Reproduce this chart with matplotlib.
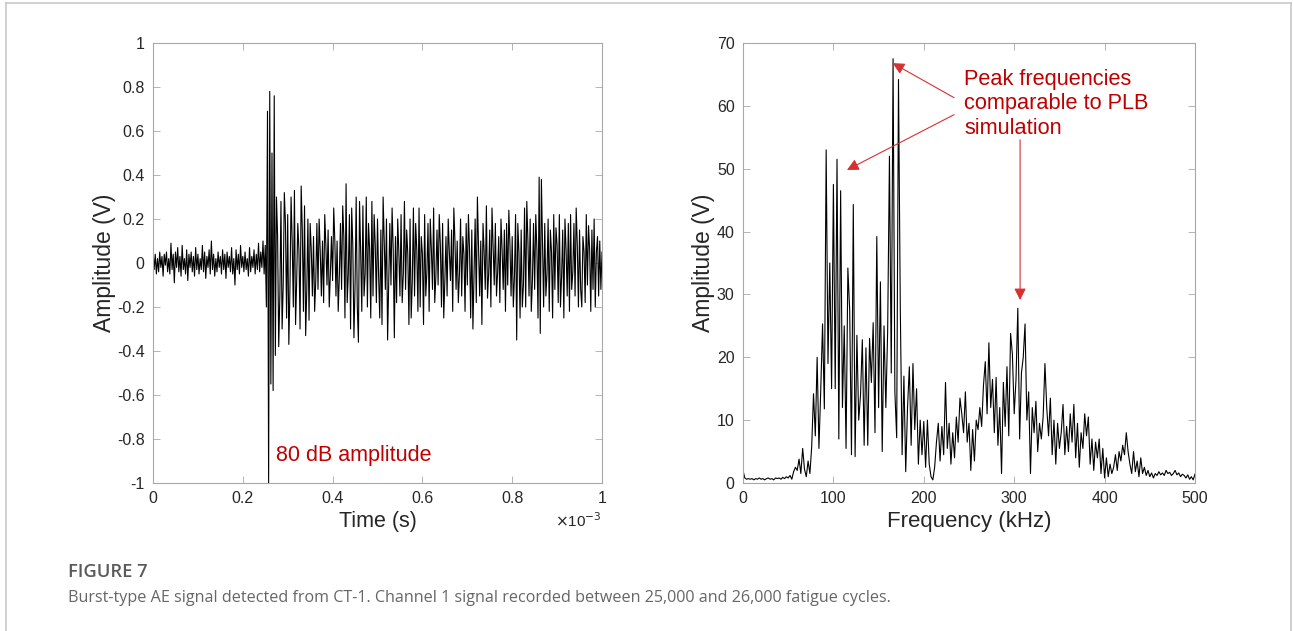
import numpy as np
import matplotlib
matplotlib.use("Agg")
import matplotlib.pyplot as plt
from matplotlib.lines import Line2D

plt.rcParams['font.family'] = ['Liberation Sans', 'DejaVu Sans']
plt.rcParams['axes.unicode_minus'] = False

# AE burst waveform, amplitude (V), sampled every 2.5 us from 0 to 1 ms
signal_v = [
    0.06, -0.03, 0.04, -0.05, 0.02, -0.04, 0.05, -0.02, 0.03, -0.06, 0.04, -0.01, 0.05, -0.04, 0.02, -0.05, 0.09, -0.03, 0.04, -0.09,
    0.05, -0.02, 0.07, -0.04, 0.03, -0.06, 0.08, -0.03, 0.02, -0.05, 0.06, -0.08, 0.04, -0.02, 0.05, -0.04, 0.03, -0.06, 0.07, -0.03,
    0.04, -0.05, 0.02, -0.03, 0.08, -0.04, 0.05, -0.07, 0.03, -0.02, 0.06, -0.05, 0.10, -0.03, 0.04, -0.06, 0.02, -0.04, 0.05, -0.02,
    0.03, -0.05, 0.06, -0.03, 0.04, -0.07, 0.05, -0.02, 0.03, -0.04, 0.07, -0.05, 0.02, -0.10, 0.06, -0.03, 0.04, -0.05, 0.08, -0.02,
    0.03, -0.04, 0.05, -0.03, 0.02, -0.06, 0.07, -0.04, 0.03, -0.02, 0.06, -0.05, 0.04, -0.03, 0.09, -0.04, 0.05, -0.02, 0.10, -0.05,
    0.08, -0.20, 0.69, -1.00, 0.78, -0.55, 0.50, -0.58, 0.76, -0.42, 0.30, 0.12, -0.38, -0.15, 0.28, -0.30, -0.10, 0.32, 0.18, -0.25,
    0.22, -0.37, -0.12, 0.30, 0.10, -0.20, 0.33, -0.28, -0.08, 0.18, 0.06, -0.30, 0.35, 0.15, -0.22, 0.26, -0.33, -0.12, 0.20, -0.26,
    0.18, 0.06, -0.15, 0.12, -0.22, -0.08, 0.18, -0.12, 0.20, 0.05, -0.15, 0.10, -0.18, 0.22, 0.08, -0.10, 0.15, -0.20, -0.05, 0.12,
    -0.08, 0.25, 0.10, -0.15, 0.10, -0.22, -0.06, 0.18, -0.12, 0.26, 0.12, -0.25, 0.36, -0.18, -0.05, 0.22, -0.30, 0.25, 0.08, -0.34,
    -0.10, 0.30, -0.20, -0.36, 0.28, 0.05, -0.22, 0.26, -0.15, -0.05, 0.30, -0.20, 0.18, 0.06, -0.25, 0.28, -0.15, 0.22, 0.08, -0.18,
    0.20, -0.06, -0.25, 0.15, -0.28, 0.30, 0.10, -0.12, 0.20, -0.35, -0.08, 0.18, -0.10, 0.25, 0.06, -0.34, 0.12, -0.18, 0.20, 0.05,
    -0.15, 0.22, -0.18, -0.05, 0.28, -0.12, 0.15, 0.04, -0.28, 0.20, -0.25, -0.08, 0.25, -0.15, 0.18, 0.06, -0.22, 0.25, -0.20, 0.12,
    0.04, -0.28, 0.22, -0.15, -0.04, 0.18, -0.22, 0.20, 0.06, -0.12, 0.25, -0.18, -0.06, 0.15, -0.10, 0.22, 0.08, -0.20, 0.18, -0.25,
    -0.08, 0.12, -0.15, 0.20, 0.05, -0.08, 0.15, -0.22, 0.25, 0.10, -0.12, 0.10, -0.18, -0.05, 0.20, -0.15, 0.12, 0.04, -0.22, 0.18,
    -0.10, 0.22, 0.06, -0.25, 0.15, -0.30, -0.04, 0.20, -0.18, 0.30, 0.08, -0.15, 0.10, -0.28, 0.18, 0.05, -0.12, 0.26, -0.16, -0.05,
    0.15, -0.20, 0.25, 0.08, -0.10, 0.18, -0.15, -0.04, 0.12, -0.18, 0.20, 0.06, -0.12, 0.15, -0.22, 0.18, -0.10, 0.24, 0.08, -0.15,
    0.12, -0.20, -0.06, 0.22, -0.35, 0.18, 0.05, -0.25, 0.15, -0.20, -0.10, 0.25, -0.20, 0.28, 0.10, -0.15, 0.20, -0.22, -0.08, 0.18,
    -0.12, 0.22, 0.06, -0.25, 0.39, -0.32, 0.38, 0.08, -0.20, 0.18, -0.15, -0.05, 0.20, -0.22, 0.15, 0.05, -0.25, 0.22, -0.12, 0.16,
    0.08, -0.18, 0.22, -0.20, -0.06, 0.15, -0.25, 0.20, 0.06, -0.15, 0.18, -0.22, 0.22, -0.12, -0.04, 0.18, -0.15, 0.25, 0.08, -0.20,
    0.15, -0.12, -0.20, 0.12, 0.05, -0.18, 0.22, -0.10, 0.17, 0.06, -0.22, 0.15, -0.12, 0.20, -0.20, 0.05, 0.12, -0.15, 0.10, -0.12, 0.05,
]
time_s = np.linspace(0, 1e-3, len(signal_v))

# FFT magnitude, every 2 kHz from 0 to 500 kHz
spectrum_v = [
    2.0, 0.8, 0.6, 0.7, 0.6, 0.7, 0.5, 0.7, 0.6, 0.8,
    0.6, 0.7, 0.5, 0.7, 0.8, 0.6, 0.7, 0.5, 0.8, 0.7,
    0.8, 0.6, 0.9, 0.7, 1.0, 0.8, 1.2, 0.6, 1.8, 2.5,
    2.0, 3.8, 1.5, 5.5, 2.2, 1.0, 3.5, 1.5, 5.8, 14.2,
    7.5, 20.0, 5.5, 14.8, 25.3, 11.8, 53.0, 19.0, 35.0, 15.0,
    47.5, 15.0, 51.5, 7.0, 46.5, 12.0, 25.0, 5.5, 34.2, 27.5,
    4.5, 44.3, 4.2, 23.5, 10.0, 14.0, 22.8, 6.0, 21.5, 6.0,
    23.0, 16.0, 25.5, 8.0, 39.2, 12.0, 32.0, 5.0, 25.0, 12.0,
    24.0, 52.0, 17.5, 67.5, 14.5, 7.2, 64.2, 27.8, 4.5, 17.0,
    1.8, 12.0, 18.5, 6.0, 19.0, 8.5, 15.0, 3.0, 10.0, 4.5,
    9.8, 2.5, 10.0, 3.0, 1.0, 0.5, 2.5, 6.5, 9.5, 3.5,
    9.0, 4.5, 16.0, 5.5, 9.5, 3.0, 8.0, 4.0, 10.5, 6.5,
    13.5, 11.0, 8.0, 14.5, 6.5, 9.5, 2.0, 8.5, 3.5, 10.0,
    8.5, 12.0, 9.0, 15.5, 19.3, 11.0, 22.3, 12.0, 16.5, 8.0,
    16.8, 6.0, 12.0, 1.5, 16.0, 9.0, 18.5, 7.5, 23.8, 20.5,
    11.0, 16.5, 27.8, 7.0, 17.5, 20.0, 25.3, 10.0, 14.5, 1.5,
    12.0, 8.0, 13.0, 5.0, 9.5, 7.0, 10.5, 19.0, 12.0, 7.5,
    13.5, 4.5, 10.0, 3.0, 9.5, 5.5, 8.0, 12.5, 4.5, 9.0,
    5.0, 11.0, 6.5, 12.5, 4.0, 9.5, 2.5, 8.0, 5.5, 11.0,
    7.5, 10.5, 3.0, 7.0, 2.0, 6.5, 4.0, 7.0, 1.5, 5.5,
    0.8, 4.0, 1.0, 3.0, 1.5, 2.5, 4.5, 2.0, 5.0, 3.5,
    6.0, 4.5, 8.0, 5.0, 3.0, 1.5, 5.0, 1.8, 3.5, 1.0,
    4.0, 1.5, 2.5, 1.2, 2.0, 1.0, 1.6, 0.8, 1.5, 1.2,
    1.8, 1.3, 1.6, 1.2, 2.0, 1.5, 1.7, 1.2, 1.5, 2.0,
    1.3, 1.6, 1.0, 1.4, 1.2, 0.8, 1.3, 0.6, 1.0, 0.5,
    1.4,
]
freq_khz = np.linspace(0, 500, len(spectrum_v))

time_ticks = [0, 0.2, 0.4, 0.6, 0.8, 1]
amp_ticks = [1, 0.8, 0.6, 0.4, 0.2, 0, -0.2, -0.4, -0.6, -0.8, -1]
freq_ticks = [0, 100, 200, 300, 400, 500]
spec_ticks = [0, 10, 20, 30, 40, 50, 60, 70]

red = '#c00000'
arrow_red = '#d83030'
spine_c = '#a8a8a8'
text_c = '#262626'

fig = plt.figure(figsize=(12.93, 6.31), dpi=100)
W, H = 1293, 631

def style(ax):
    ax.tick_params(direction='in', top=True, right=True, length=5, width=0.6,
                   color=spine_c, labelsize=11.5, labelcolor=text_c, pad=6)
    for s in ax.spines.values():
        s.set_color(spine_c)
        s.set_linewidth(0.8)

ax1 = fig.add_axes([153 / W, 1 - 483 / H, 449 / W, 440 / H])
ax1.plot(time_s, signal_v, color='black', lw=0.8)
ax1.set_xlim(0, 1e-3)
ax1.set_ylim(-1, 1)
ax1.set_xticks([t * 1e-3 for t in time_ticks])
ax1.set_xticklabels([f'{t:g}' for t in time_ticks])
ax1.set_yticks(amp_ticks)
ax1.set_yticklabels([f'{v:g}' for v in amp_ticks])
ax1.set_xlabel('Time (s)', fontsize=15.5, color=text_c, labelpad=3)
ax1.set_ylabel('Amplitude (V)', fontsize=16.5, color=text_c, labelpad=1)
style(ax1)
ax1.text(1.0, -0.085, r'$\times$10$^{-3}$', transform=ax1.transAxes,
         ha='right', va='center', fontsize=11, color=text_c)
ax1.text(0.274e-3, -0.877, '80 dB amplitude', color=red, fontsize=15.5,
         va='center', ha='left')

ax2 = fig.add_axes([743 / W, 1 - 483 / H, 452 / W, 440 / H])
ax2.plot(freq_khz, spectrum_v, color='black', lw=0.8)
ax2.set_xlim(0, 500)
ax2.set_ylim(0, 70)
ax2.set_xticks(freq_ticks)
ax2.set_yticks(spec_ticks)
ax2.set_xlabel('Frequency (kHz)', fontsize=16, color=text_c, labelpad=3)
ax2.set_ylabel('Amplitude (V)', fontsize=16.5, color=text_c, labelpad=1)
style(ax2)

ax2.text(245, 60.3, 'Peak frequencies\ncomparable to PLB\nsimulation', color=red,
         fontsize=15.7, ha='left', va='center', linespacing=1.2)
arrow = dict(arrowstyle='-|>,head_length=0.7,head_width=0.35', color=arrow_red,
             lw=0.8, shrinkA=0, shrinkB=0)
ax2.annotate('', xy=(165.5, 66.8), xytext=(233.5, 61.3), arrowprops=arrow)
ax2.annotate('', xy=(115, 49.8), xytext=(233.5, 58.6), arrowprops=arrow)
ax2.annotate('', xy=(306.5, 29.1), xytext=(306.5, 54.6), arrowprops=arrow)

# page frame and caption
frame = dict(color='#c8c8c8', lw=1.2, transform=fig.transFigure)
fig.add_artist(Line2D([6 / W, 1291 / W], [1 - 3 / H, 1 - 3 / H], **frame))
fig.add_artist(Line2D([6 / W, 6 / W], [0, 1 - 3 / H], **frame))
fig.add_artist(Line2D([1291 / W, 1291 / W], [0, 1 - 3 / H], **frame))
fig.text(68 / W, 1 - 572 / H, 'FIGURE 7', fontsize=13.2, fontweight='semibold',
         family=['Open Sans', 'DejaVu Sans'], color='#5a5a5a', va='center')
fig.text(68 / W, 1 - 598 / H,
         'Burst-type AE signal detected from CT-1. Channel 1 signal recorded '
         'between 25,000 and 26,000 fatigue cycles.',
         fontsize=11.6, family=['Open Sans', 'DejaVu Sans'], color='#666666', va='center')

fig.savefig('out.png', dpi=100)
